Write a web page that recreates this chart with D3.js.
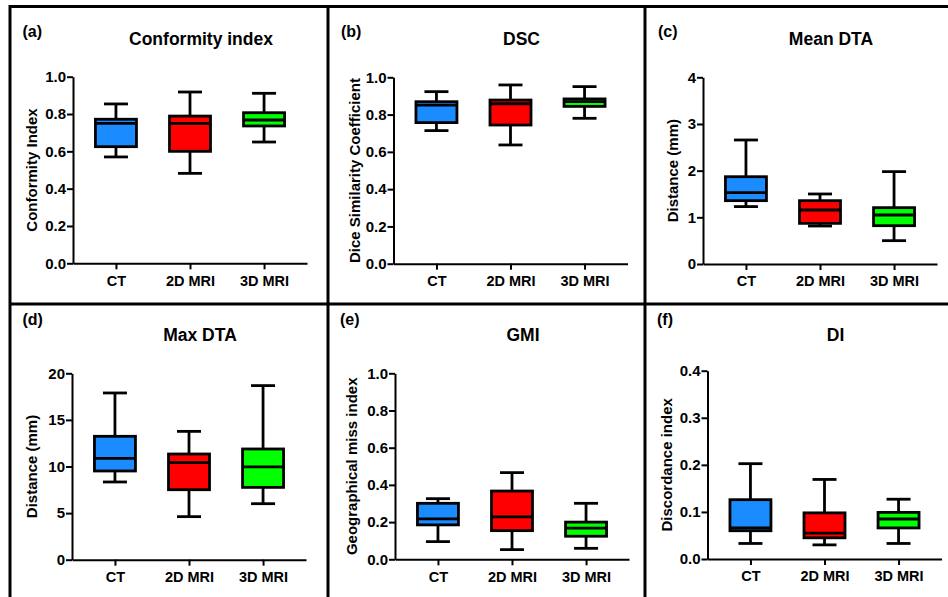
<!DOCTYPE html>
<html>
<head>
<meta charset="utf-8">
<script src="https://cdn.jsdelivr.net/npm/d3@7"></script>
<style>
  body { margin: 0; background: #fff; }
  svg text { font-family: "Liberation Sans", Arial, sans-serif; font-weight: bold; fill: #000; }
  .axis path, .axis line { stroke: #000; stroke-width: 2; }
  .axis text { font-size: 15px; }
  .axis--x text { font-size: 14.5px; }
</style>
</head>
<body>
<div id="chart"></div>
<script>

// ===== Data =====

let categories = ["CT", "2D MRI", "3D MRI"];
let colors = ["#1a8cff", "#ff0000", "#00ff00"];

// each row: [min, q1, median, q3, max] for CT, 2D MRI, 3D MRI
let conformity = [[0.57, 0.625, 0.75, 0.772, 0.854], [0.482, 0.60, 0.75, 0.789, 0.918], [0.65, 0.736, 0.768, 0.807, 0.911]];
let dsc        = [[0.714, 0.757, 0.851, 0.869, 0.923], [0.637, 0.744, 0.858, 0.878, 0.959], [0.78, 0.844, 0.869, 0.884, 0.95]];
let meanDta    = [[1.23, 1.357, 1.53, 1.87, 2.657], [0.814, 0.871, 1.157, 1.357, 1.5], [0.5, 0.821, 1.05, 1.207, 1.979]];
let maxDta     = [[8.34, 9.52, 10.88, 13.24, 17.89], [4.62, 7.51, 10.41, 11.34, 13.77], [6.01, 7.76, 9.95, 11.88, 18.68]];
let gmi        = [[0.095, 0.185, 0.217, 0.301, 0.326], [0.052, 0.154, 0.228, 0.367, 0.466], [0.059, 0.124, 0.168, 0.2, 0.301]];
let di         = [[0.033, 0.060, 0.066, 0.126, 0.2025], [0.030, 0.045, 0.055, 0.098, 0.169], [0.033, 0.066, 0.085, 0.099, 0.127]];

let unitTicks = [0, 0.2, 0.4, 0.6, 0.8, 1.0],
    meanTicks = [0, 1, 2, 3, 4],
    maxTicks  = [0, 5, 10, 15, 20],
    diTicks   = [0, 0.1, 0.2, 0.3, 0.4];

// ===== Layout =====

let W = 948, H = 597;
let plotW = 234, boxW = 41, capW = 24;

let panels = [
  {tag: "(a)", title: "Conformity index", yLabel: "Conformity Index", stats: conformity, ticks: unitTicks, fmt: ".1f",
   left: 73, top: 76.7, bottom: 263.3, labelDx: -36, tagX: 22.5, row: 0},
  {tag: "(b)", title: "DSC", yLabel: "Dice Similarity Coefficient", stats: dsc, ticks: unitTicks, fmt: ".1f",
   left: 393.5, top: 77.3, bottom: 263.7, labelDx: -34, tagX: 341, row: 0},
  {tag: "(c)", title: "Mean DTA", yLabel: "Distance (mm)", stats: meanDta, ticks: meanTicks, fmt: "d",
   left: 703, top: 77.3, bottom: 264, labelDx: -25, tagX: 658, row: 0},
  {tag: "(d)", title: "Max DTA", yLabel: "Distance (mm)", stats: maxDta, ticks: maxTicks, fmt: "d",
   left: 72, top: 373.3, bottom: 559.7, labelDx: -35, tagX: 22.5, row: 1},
  {tag: "(e)", title: "GMI", yLabel: "Geographical miss index", stats: gmi, ticks: unitTicks, fmt: ".1f",
   left: 395, top: 373.3, bottom: 559.3, labelDx: -38, tagX: 340, row: 1},
  {tag: "(f)", title: "DI", yLabel: "Discordance index", stats: di, ticks: diTicks, fmt: ".1f",
   left: 707.5, top: 370.7, bottom: 559, labelDx: -36, tagX: 657, row: 1}
];

let rowTagY = [36.5, 325], rowTitleY = [45, 340.5];

let svg = d3.select("#chart").append("svg")
    .attr("width", W)
    .attr("height", H);

svg.append("rect").attr("width", W).attr("height", H).attr("fill", "#fff");

// ===== Panel frame =====

let frame = svg.append("g")
    .attr("stroke", "#000")
    .attr("stroke-width", 3);

frame.append("line").attr("x1", 10).attr("x2", W).attr("y1", 6.5).attr("y2", 6.5);
frame.append("line").attr("x1", 10).attr("x2", W).attr("y1", 304).attr("y2", 304);
[10, 328, 645].forEach(xv => {
  frame.append("line").attr("x1", xv).attr("x2", xv).attr("y1", 5).attr("y2", H);
});

// ===== Box plots =====

panels.forEach(p => {

  let g = svg.append("g");

  let x = d3.scalePoint()
      .domain(categories)
      .range([p.left, p.left + plotW])
      .padding(0.58);

  let y = d3.scaleLinear()
      .domain(d3.extent(p.ticks))
      .range([p.bottom, p.top]);

  g.append("g")
      .attr("class", "axis axis--y")
      .attr("transform", "translate(" + p.left + ",0)")
      .call(d3.axisLeft(y)
        .tickValues(p.ticks)
        .tickFormat(d3.format(p.fmt))
        .tickSize(6)
        .tickSizeOuter(0)
        .tickPadding(1));

  g.append("g")
      .attr("class", "axis axis--x")
      .attr("transform", "translate(0," + p.bottom + ")")
      .call(d3.axisBottom(x)
        .tickSize(6)
        .tickSizeOuter(0)
        .tickPadding(6));

  let boxes = g.selectAll(".box")
    .data(p.stats)
    .enter()
  .append("g")
    .attr("class", "box")
    .attr("stroke", "#000")
    .attr("stroke-width", 2.8);

  let cx = (d, i) => x(categories[i]);

  // whisker stem
  boxes.append("line")
      .attr("x1", cx).attr("x2", cx)
      .attr("y1", d => y(d[0]))
      .attr("y2", d => y(d[4]));

  // caps
  [0, 4].forEach(k => {
    boxes.append("line")
        .attr("x1", (d, i) => cx(d, i) - capW / 2)
        .attr("x2", (d, i) => cx(d, i) + capW / 2)
        .attr("y1", d => y(d[k]))
        .attr("y2", d => y(d[k]));
  });

  boxes.append("rect")
      .attr("x", (d, i) => cx(d, i) - boxW / 2)
      .attr("width", boxW)
      .attr("y", d => y(d[3]))
      .attr("height", d => y(d[1]) - y(d[3]))
      .attr("fill", (d, i) => colors[i]);

  // median
  boxes.append("line")
      .attr("x1", (d, i) => cx(d, i) - boxW / 2)
      .attr("x2", (d, i) => cx(d, i) + boxW / 2)
      .attr("y1", d => y(d[2]))
      .attr("y2", d => y(d[2]));

  // ===== Texts =====

  g.append("text")
      .attr("transform", "translate(" + (p.left + p.labelDx) + "," + ((p.top + p.bottom) / 2) + ") rotate(-90)")
      .attr("text-anchor", "middle")
      .style("font-size", "15px")
      .text(p.yLabel);

  g.append("text")
      .attr("x", p.left + 128)
      .attr("y", rowTitleY[p.row])
      .attr("text-anchor", "middle")
      .style("font-size", "17.5px")
      .text(p.title);

  g.append("text")
      .attr("x", p.tagX)
      .attr("y", rowTagY[p.row])
      .style("font-size", "16px")
      .text(p.tag);
});

</script>
</body>
</html>
